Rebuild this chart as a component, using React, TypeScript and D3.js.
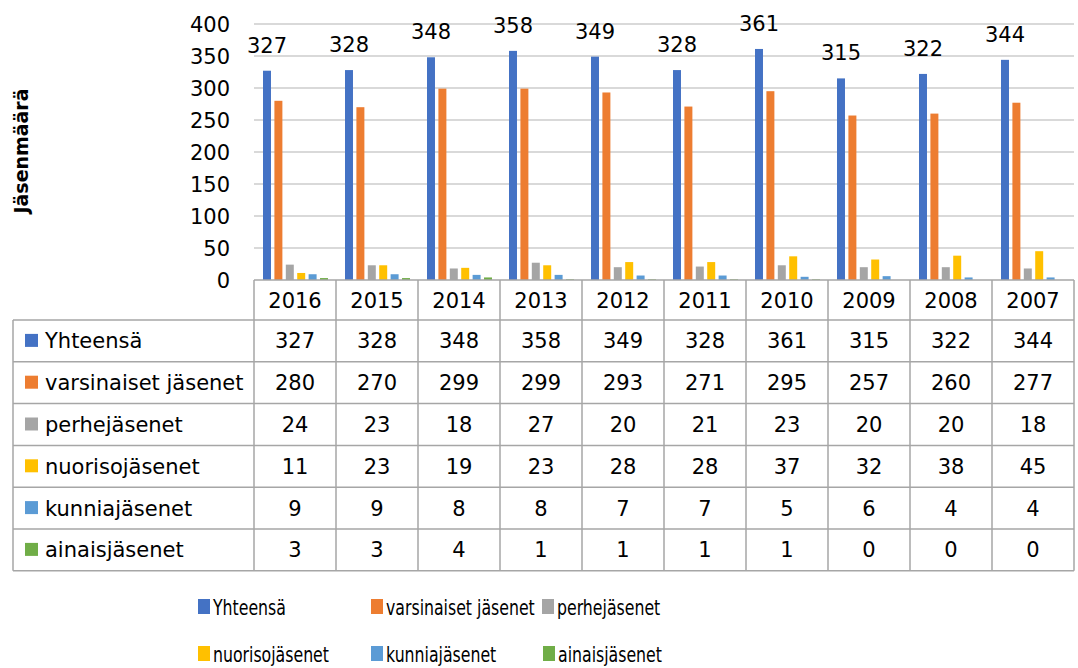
import React from "react";
import * as d3 from "d3";

const years = ["2016", "2015", "2014", "2013", "2012", "2011", "2010", "2009", "2008", "2007"];
const seriesNames = ["Yhteensä", "varsinaiset jäsenet", "perhejäsenet", "nuorisojäsenet", "kunniajäsenet", "ainaisjäsenet"];
const seriesColors = ["#4472C4", "#ED7D31", "#A5A5A5", "#FFC000", "#5B9BD5", "#70AD47"];
const yhteensa = [327, 328, 348, 358, 349, 328, 361, 315, 322, 344];
const varsinaiset = [280, 270, 299, 299, 293, 271, 295, 257, 260, 277];
const perhe = [24, 23, 18, 27, 20, 21, 23, 20, 20, 18];
const nuoriso = [11, 23, 19, 23, 28, 28, 37, 32, 38, 45];
const kunnia = [9, 9, 8, 8, 7, 7, 5, 6, 4, 4];
const ainais = [3, 3, 4, 1, 1, 1, 1, 0, 0, 0];
const seriesValues = [yhteensa, varsinaiset, perhe, nuoriso, kunnia, ainais];
const yTicks = [0, 50, 100, 150, 200, 250, 300, 350, 400];

const FONT = "DejaVu Sans, Verdana, sans-serif";

export default function App() {
  const W = 1078, H = 668;
  const left = 254, right = 1074, top = 24, bottom = 280;
  const tableLeft = 13;
  const headerTop = 280, headerBottom = 320, rowH = 41.8;

  const y = d3.scaleLinear().domain([0, 400]).range([bottom, top]);
  const x0 = d3.scaleBand().domain(years).range([left, right]);
  const step = x0.bandwidth();
  const x1 = d3.scaleBand().domain(seriesNames).range([9, step - 8]).paddingInner(0.3);

  const gridColor = "#d9d9d9";
  const border = "#a6a6a6";
  const fs = 21;
  const tableBottom = headerBottom + rowH * seriesNames.length;

  const legendItems = [
    { x: 198, y: 607 }, { x: 371, y: 607 }, { x: 542, y: 607 },
    { x: 198, y: 654 }, { x: 371, y: 654 }, { x: 543, y: 654 },
  ];

  return (
    <svg width={W} height={H} style={{ position: "absolute", left: 0, top: 0, background: "#fff" }} fontFamily={FONT}>
      <rect x={0} y={0} width={W} height={H} fill="#fff" />
      {yTicks.filter(t => t > 0).map(t => (
        <line key={t} x1={left} x2={right} y1={y(t)} y2={y(t)} stroke={gridColor} strokeWidth={2} />
      ))}
      {yTicks.map(t => (
        <text key={t} x={230} y={y(t)} dy="0.36em" textAnchor="end" fontSize={fs} fill="#000">{t}</text>
      ))}
      <text transform={`translate(28,151) rotate(-90)`} textAnchor="middle" fontSize={20} fontWeight="bold" fill="#000"
        textLength={125} lengthAdjust="spacingAndGlyphs">Jäsenmäärä</text>
      {years.map((yr, i) => (
        <g key={yr} transform={`translate(${x0(yr)},0)`}>
          {seriesNames.map((s, j) => {
            const v = seriesValues[j][i];
            return (
              <rect key={s} x={x1(s)} y={y(v)} width={x1.bandwidth()} height={bottom - y(v)} fill={seriesColors[j]} />
            );
          })}
          <text x={(x1(seriesNames[0]) as number) + x1.bandwidth() / 2} y={y(yhteensa[i]) - 18} textAnchor="middle" fontSize={fs} fill="#000">{yhteensa[i]}</text>
        </g>
      ))}
      <g stroke={border} strokeWidth={1.5} fill="none">
        <line x1={left} x2={right} y1={headerTop} y2={headerTop} />
        <line x1={tableLeft} x2={right} y1={headerBottom} y2={headerBottom} />
        {seriesNames.map((s, j) => (
          <line key={s} x1={tableLeft} x2={right} y1={headerBottom + rowH * (j + 1)} y2={headerBottom + rowH * (j + 1)} />
        ))}
        <line x1={tableLeft} x2={tableLeft} y1={headerBottom} y2={tableBottom} />
        {years.map(yr => (
          <line key={yr} x1={x0(yr)} x2={x0(yr)} y1={headerTop} y2={tableBottom} />
        ))}
        <line x1={right} x2={right} y1={headerTop} y2={tableBottom} />
      </g>
      {years.map(yr => (
        <text key={yr} x={(x0(yr) as number) + step / 2} y={(headerTop + headerBottom) / 2} dy="0.36em" textAnchor="middle" fontSize={fs} fill="#000">{yr}</text>
      ))}
      {seriesNames.map((s, j) => {
        const cy = headerBottom + rowH * j + rowH / 2;
        return (
          <g key={s}>
            <rect x={25} y={cy - 7} width={13} height={13} fill={seriesColors[j]} />
            <text x={45} y={cy} dy="0.36em" fontSize={fs} fill="#000">{s}</text>
            {years.map((yr, i) => (
              <text key={yr} x={(x0(yr) as number) + step / 2} y={cy} dy="0.36em" textAnchor="middle" fontSize={fs} fill="#000">{seriesValues[j][i]}</text>
            ))}
          </g>
        );
      })}
      {seriesNames.map((s, j) => (
        <g key={s}>
          <rect x={legendItems[j].x} y={legendItems[j].y - 8} width={12} height={15} fill={seriesColors[j]} />
          <text transform={`translate(${legendItems[j].x + 15},${legendItems[j].y}) scale(0.75,1)`} dy="0.36em" fontSize={21} fill="#000">{s}</text>
        </g>
      ))}
    </svg>
  );
}
